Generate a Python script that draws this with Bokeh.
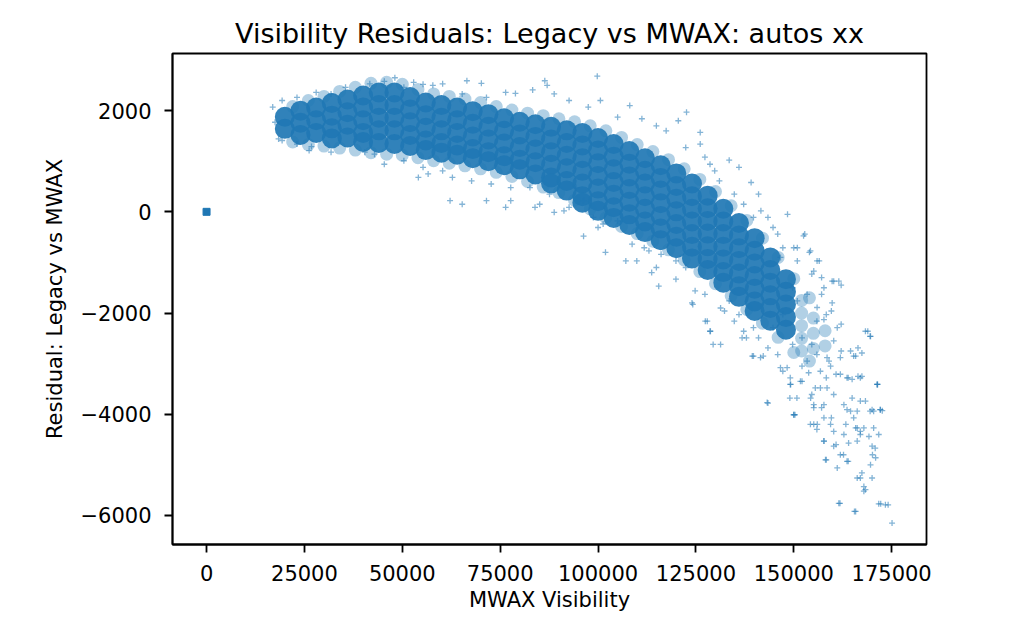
from bokeh.plotting import figure
from bokeh.models import Range1d, FixedTicker, CustomJSTickFormatter
from bokeh.embed import file_html
from bokeh.resources import INLINE

TITLE = "Visibility Residuals: Legacy vs MWAX: autos xx"
X_LABEL = "MWAX Visibility"
Y_LABEL = "Residual: Legacy vs MWAX"
x_ticks = [0, 25000, 50000, 75000, 100000, 125000, 150000, 175000]
y_ticks = [-6000, -4000, -2000, 0, 2000]

# dense core of the point cloud
core_x = [20000, 20000,
          24000, 24000, 24000,
          28000, 28000, 28000,
          32000, 32000, 32000, 32000,
          36000, 36000, 36000, 36000,
          40000, 40000, 40000, 40000, 40000,
          44000, 44000, 44000, 44000, 44000,
          48000, 48000, 48000, 48000, 48000,
          52000, 52000, 52000, 52000, 52000,
          56000, 56000, 56000, 56000, 56000,
          60000, 60000, 60000, 60000, 60000,
          64000, 64000, 64000, 64000, 64000,
          68000, 68000, 68000, 68000, 68000,
          72000, 72000, 72000, 72000, 72000,
          76000, 76000, 76000, 76000, 76000,
          80000, 80000, 80000, 80000, 80000,
          84000, 84000, 84000, 84000, 84000,
          88000, 88000, 88000, 88000, 88000, 88000,
          92000, 92000, 92000, 92000, 92000, 92000,
          96000, 96000, 96000, 96000, 96000, 96000, 96000,
          100000, 100000, 100000, 100000, 100000, 100000, 100000,
          104000, 104000, 104000, 104000, 104000, 104000, 104000,
          108000, 108000, 108000, 108000, 108000, 108000, 108000,
          112000, 112000, 112000, 112000, 112000, 112000, 112000,
          116000, 116000, 116000, 116000, 116000, 116000, 116000,
          120000, 120000, 120000, 120000, 120000, 120000, 120000,
          124000, 124000, 124000, 124000, 124000, 124000, 124000,
          128000, 128000, 128000, 128000, 128000, 128000, 128000,
          132000, 132000, 132000, 132000, 132000, 132000, 132000,
          136000, 136000, 136000, 136000, 136000, 136000, 136000,
          140000, 140000, 140000, 140000, 140000, 140000, 140000,
          144000, 144000, 144000, 144000, 144000, 144000,
          148000, 148000, 148000, 148000, 148000]
core_y = [1880, 1640,
          2000, 1760, 1520,
          2060, 1810, 1560,
          2150, 1900, 1650, 1450,
          2220, 1970, 1720, 1470,
          2300, 2060, 1810, 1560, 1380,
          2360, 2110, 1860, 1610, 1360,
          2360, 2110, 1860, 1610, 1340,
          2270, 2020, 1770, 1520, 1300,
          2160, 1910, 1660, 1410, 1220,
          2110, 1860, 1610, 1360, 1170,
          2060, 1810, 1560, 1310, 1130,
          1990, 1740, 1490, 1240, 1060,
          1930, 1680, 1430, 1180, 1000,
          1850, 1600, 1350, 1100, 920,
          1780, 1530, 1280, 1030, 840,
          1730, 1480, 1230, 980, 740,
          1680, 1430, 1180, 930, 680, 560,
          1610, 1360, 1110, 860, 610, 420,
          1560, 1310, 1060, 810, 560, 310, 180,
          1460, 1210, 960, 710, 460, 210, 20,
          1340, 1090, 840, 590, 340, 90, -120,
          1200, 950, 700, 450, 200, -50, -260,
          1060, 810, 560, 310, 60, -190, -400,
          920, 670, 420, 170, -80, -330, -560,
          760, 510, 260, 10, -240, -490, -720,
          560, 310, 60, -190, -440, -690, -920,
          320, 70, -180, -430, -680, -930, -1150,
          60, -190, -440, -690, -940, -1190, -1400,
          -220, -470, -720, -970, -1220, -1470, -1680,
          -520, -770, -1020, -1270, -1520, -1770, -1960,
          -900, -1150, -1400, -1650, -1900, -2150,
          -1330, -1580, -1830, -2080, -2330]

# less dense fringe around the core (upper side, lower side, right end)
fringe_x = [22000, 26000, 30000, 34000, 38000, 42000, 46000, 50000, 54000, 58000,
            62000, 66000, 70000, 74000, 78000, 82000, 86000, 90000, 94000, 98000,
            102000, 106000, 110000, 114000, 118000, 122000, 126000, 130000, 134000, 138000,
            142000, 146000, 150000, 154000,
            22000, 26000, 30000, 34000, 38000, 42000, 46000, 50000, 54000, 58000,
            62000, 66000, 70000, 74000, 78000, 82000, 86000, 90000, 94000, 98000,
            102000, 106000, 110000, 114000, 118000, 122000, 126000, 130000, 134000, 138000,
            142000, 146000, 150000, 154000,
            152000, 152000, 152000, 152000, 152000, 155000, 155000, 155000, 158000, 158000]
fringe_y = [2080, 2200, 2280, 2380, 2460, 2540, 2560, 2520, 2420, 2330,
            2280, 2230, 2160, 2080, 2010, 1950, 1900, 1840, 1780, 1700,
            1600, 1470, 1330, 1190, 1030, 850, 640, 400, 120, -170,
            -520, -900, -1320, -1700,
            1380, 1330, 1300, 1260, 1220, 1170, 1140, 1120, 1070, 1010,
            960, 910, 850, 780, 700, 600, 490, 380, 230, 60,
            -120, -290, -430, -580, -750, -950, -1180, -1420, -1660, -1930,
            -2200, -2480, -2780, -2950,
            -1750, -2000, -2250, -2500, -2750, -2100, -2400, -2700, -2350, -2650]

# scattered points around the edges of the cloud
edge_x = [16900, 17500, 18400, 19300, 19300, 23100, 23100, 26200, 26800, 28000,
          31800, 31800, 35500, 40400, 41700, 42900, 45400, 45400, 48100, 50400,
          50400, 52900, 54100, 55300, 55300, 56600, 57800, 60300, 60300, 62200,
          62800, 65300, 65300, 66500, 67700, 70200, 71500, 71500, 72700, 76400,
          76400, 77700, 77700, 78900, 82600, 83300, 83900, 85100, 86400, 87000,
          87600, 88800, 88800, 91300, 92600, 92600, 94400, 96300, 96300, 97500,
          98800, 99800, 100000, 100600, 101300, 101900, 105000, 105000, 107100, 108100,
          108700, 109900, 111200, 111800, 113000, 113700, 114900, 114900, 115500, 116100,
          117400, 119900, 119900, 120500, 122400, 122400, 122600, 124200, 124800, 126100,
          126100, 127300, 127300, 127900, 128600, 128600, 129800, 131000, 131300, 132300,
          133500, 133500, 134800, 134800, 136000, 136000, 137200, 137200, 137900, 139100,
          139700, 139700, 139700, 141000, 141000, 141600, 142200, 143400, 143400, 143400,
          144700, 144700, 145900, 145900, 147200, 147200, 147200, 148400, 149000, 149700,
          149700, 150300, 150900, 150900, 150900, 152100, 152100, 152800, 153400, 153400,
          154000, 154600, 154600, 154600, 155900, 155900, 155900, 156500, 157100, 157100,
          157100, 157700, 158300, 158300, 158300, 159000, 159600, 159600, 160200, 160800,
          160800, 161800, 162100, 162100, 162100, 162700, 163300, 163900, 163900, 164500,
          165800, 165800, 165800, 166400, 166400, 167000, 167000, 168300, 168900, 169500,
          169500, 170100, 170800, 171400, 172200, 172600, 174100, 175100]
edge_y = [2070, 1770, 1440, 2200, 1410, 2260, 1340, 1210, 1290, 2360,
          2330, 1180, 2460, 1180, 2530, 1140, 2580, 940, 2650, 2460,
          1010, 2560, 680, 2520, 880, 750, 2500, 2530, 810, 220,
          680, 150, 2330, 2590, 610, 2540, 220, 2260, 550, 2360,
          90, 480, 220, 2340, 480, 2410, 90, 150, 2590, 2500,
          350, 2330, -10, 20, 90, 2200, 480, 220, -480, 2070,
          -110, 2680, -310, 2200, -240, -800, -180, 1870, -970, 2100,
          -640, -970, 1840, -710, -770, -1200, 1700, -1100, -1470, -840,
          1600, -970, -1330, 1800, -1100, 1270, 1970, -1830, -1560, 1570,
          1340, -1630, 1080, -2160, 940, -2360, 810, 610, -2620, -1960,
          1020, -1760, 350, -2160, 880, -2030, 150, -2360, -2490, 580,
          -110, -2290, -2850, 350, -2490, 20, -2850, -110, -2690, -3780,
          -310, -2290, -2820, -440, -710, -2030, -3150, -50, -3680, -1500,
          -2620, -4010, -970, -1760, -710, -2490, -3350, -440, -1630, -2950,
          -800, -1230, -2620, -3610, -2820, -4300, -2160, -970, -1300, -1630,
          -3870, -4530, -4900, -2030, -3280, -2950, -1960, -4070, -1370, -3210,
          -4600, -5760, -1450, -2220, -2750, -4800, -4200, -3280, -4930, -3940,
          -2850, -4270, -5920, -2690, -3250, -4400, -5260, -5490, -2360, -2460,
          -3940, -4800, -4670, -3410, -5770, -3930, -5790, -6150]

# sparse tail of the cloud (bottom right)
tail_x = [150000, 151700, 154300, 156000, 157700, 158100, 160200, 160200, 161900, 161100,
          164000, 163600, 166200, 166200, 167400, 167900, 167900, 161500, 165500, 171700,
          173400, 170000, 169600, 170900, 170000, 169200, 171700, 170400, 167000, 166200,
          163600, 166200, 170000, 172100, 164900, 167000, 168300, 171300, 167400, 164900,
          161900, 160200, 157700, 155100, 159400, 156800, 153800, 149200, 148300, 152100,
          155100, 159400, 162800, 155500, 158500]
tail_y = [-4010, -3350, -3680, -4200, -4530, -4900, -4630, -4340, -4800, -5060,
          -4570, -4930, -4530, -5260, -5160, -5430, -5520, -5760, -5920, -5770,
          -5790, -5260, -5000, -4860, -4630, -4440, -4400, -4270, -4340, -4270,
          -3910, -3940, -3910, -3910, -3680, -3740, -3740, -3410, -3250, -3310,
          -3210, -3610, -3810, -3870, -3050, -3150, -3180, -3410, -3080, -3050,
          -4200, -4200, -4400, -3480, -3480]

# medium density points in the descending band
band_x = [152500, 155950, 159800, 161500, 159800, 168300, 169600, 171300, 165300, 167400,
          163600, 167000, 170400, 172100, 161100, 160200, 158500, 156800, 155100, 150800,
          149100, 143200, 154250, 150000, 157700, 162800, 165300, 167900, 131300, 128700,
          129400, 127400, 124000, 139400, 141500, 136800, 146600, 149100, 161900, 164500,
          157700, 155950, 157700, 155100, 154250, 150000, 146600]
band_y = [-475, -970, -1370, -1370, -1800, -2360, -2460, -3410, -2850, -2790,
          -3280, -3280, -3940, -3910, -2290, -2550, -2880, -3480, -3810, -3680,
          -3410, -3770, -4200, -4010, -4070, -3810, -4070, -4270, -1900, -2360,
          -2620, -2160, -1800, -2850, -2880, -2490, -3080, -3280, -2880, -2750,
          -2130, -1890, -1500, -1170, -770, -710, -900]

# cluster of points at the origin
origin_x = [0]
origin_y = [0]

BLUE = "#1f77b4"
FONT = "DejaVu Sans"

p = figure(width=998, height=623, output_backend="svg", toolbar_location=None,
           x_range=Range1d(-8700, 183900), y_range=Range1d(-6574, 3129),
           min_border_left=172, min_border_top=53, min_border_right=72,
           min_border_bottom=79, title=TITLE)

p.background_fill_color = "white"
p.border_fill_color = "white"
p.outline_line_color = "black"
p.outline_line_width = 1.8
p.grid.visible = False

p.title.text_font = FONT
p.title.text_font_size = "27px"
p.title.text_font_style = "normal"
p.title.text_color = "black"
p.title.align = "center"
p.title.standoff = 10

fmt = CustomJSTickFormatter(code="return tick < 0 ? '\u2212' + Math.abs(tick).toFixed(0) : tick.toFixed(0);")
p.xaxis.ticker = FixedTicker(ticks=x_ticks)
p.yaxis.ticker = FixedTicker(ticks=y_ticks)
p.xaxis.formatter = fmt
p.yaxis.formatter = fmt
p.xaxis.axis_label = X_LABEL
p.yaxis.axis_label = Y_LABEL

for ax in (p.xaxis, p.yaxis):
    ax.axis_line_color = "black"
    ax.axis_line_width = 1.8
    ax.major_tick_line_color = "black"
    ax.major_tick_line_width = 1.8
    ax.major_tick_out = 8
    ax.major_tick_in = 0
    ax.minor_tick_line_color = None
    ax.major_label_text_font = FONT
    ax.major_label_text_font_size = "21px"
    ax.major_label_text_color = "black"
    ax.axis_label_text_font = FONT
    ax.axis_label_text_font_size = "21px"
    ax.axis_label_text_font_style = "normal"
    ax.axis_label_text_color = "black"

p.xaxis.major_label_standoff = 12
p.yaxis.major_label_standoff = 13
p.xaxis.axis_label_standoff = 4
p.yaxis.axis_label_standoff = 10

p.scatter(fringe_x, fringe_y, marker="circle", size=13, fill_color=BLUE,
          fill_alpha=0.35, line_color=None)
p.scatter(core_x, core_y, marker="circle", size=20, fill_color=BLUE,
          fill_alpha=0.92, line_color=None)
p.scatter(edge_x, edge_y, marker="cross", size=6, line_color=BLUE,
          line_alpha=0.55, line_width=1.3)
p.scatter(tail_x, tail_y, marker="cross", size=6, line_color=BLUE,
          line_alpha=0.55, line_width=1.3)
p.scatter(band_x, band_y, marker="cross", size=6, line_color=BLUE,
          line_alpha=0.55, line_width=1.3)
p.scatter(origin_x, origin_y, marker="square", size=7, fill_color=BLUE,
          line_color=BLUE, fill_alpha=1.0)

open("out.html", "w").write(file_html(p, INLINE))
